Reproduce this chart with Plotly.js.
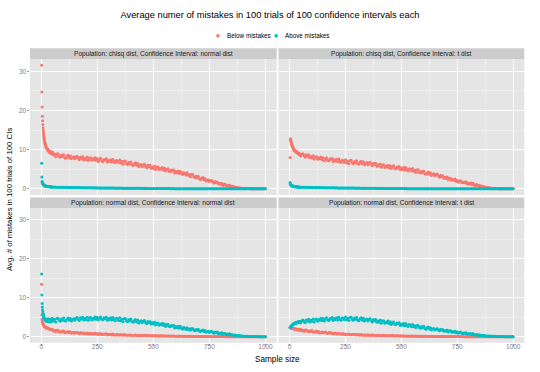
<!DOCTYPE html>
<html>
<head>
<meta charset="utf-8">
<script src="https://cdn.plot.ly/plotly-3.0.1.min.js"></script>
<style>html,body{margin:0;padding:0;background:#fff;}#chart{width:540px;height:372px;}</style>
</head>
<body>
<div id="chart"></div>
<script>
// ---------------- data ----------------
const chartTitle = "Average numer of mistakes in 100 trials of 100 confidence intervals each";
const seriesNames = ["Below mistakes", "Above mistakes"];
const panelTitles = [
  "Population: chisq dist, Confidence Interval: normal dist",
  "Population: chisq dist, Confidence Interval: t dist",
  "Population: normal dist, Confidence Interval: normal dist",
  "Population: normal dist, Confidence Interval: t dist"
];
const xTickVals = [0, 250, 500, 750, 1000];
const yTickVals = [0, 10, 20, 30];

const sampleSize = [2,3,4,5,6,7,8,9,10,11,12,13,14,15,16,17,18,19,20,
  22,24,26,28,30,32,34,36,38,40,42,44,46,48,
  50,55,60,65,70,75,80,85,90,95,100,105,110,115,120,125,130,135,140,145,
  150,155,160,165,170,175,180,185,190,195,200,205,210,215,220,225,230,235,240,245,
  250,255,260,265,270,275,280,285,290,295,300,305,310,315,320,325,330,335,340,345,
  350,355,360,365,370,375,380,385,390,395,400,405,410,415,420,425,430,435,440,445,
  450,455,460,465,470,475,480,485,490,495,500,505,510,515,520,525,530,535,540,545,
  550,555,560,565,570,575,580,585,590,595,600,605,610,615,620,625,630,635,640,645,
  650,655,660,665,670,675,680,685,690,695,700,705,710,715,720,725,730,735,740,745,
  750,755,760,765,770,775,780,785,790,795,800,805,810,815,820,825,830,835,840,845,
  850,855,860,865,870,875,880,885,890,895,900,905,910,915,920,925,930,935,940,945,
  950,955,960,965,970,975,980,985,990,995,1000];

// Panel 1: chisq population, normal CI
const belowChisqNormal = [31.5,24.7,20.9,18.5,17.4,16.4,15.6,14.9,14.3,13.8,13.3,12.9,12.5,12.2,11.9,11.6,11.4,11.2,11.0,
  10.6,10.5,10.1,10.2,9.8,9.9,9.5,9.7,9.3,9.5,9.1,9.4,8.9,9.2,
  9.4,8.6,8.9,8.2,8.9,8.95,8.3,8.05,8.6,8.25,8.7,7.95,7.8,8.3,8.55,7.9,8.4,7.65,8.0,8.2,
  7.65,8.1,8.3,7.8,7.45,8.1,7.8,8.2,7.45,7.8,7.5,8.1,7.25,7.8,7.9,7.3,7.65,7.4,7.9,7.3,
  7.75,7.0,7.5,7.8,7.15,7.0,7.5,7.3,7.65,6.85,7.3,7.0,7.45,6.8,7.5,7.0,6.65,7.25,7.1,6.7,
  7.35,6.6,6.95,6.3,7.05,7.1,6.45,6.2,6.75,6.4,6.85,6.1,5.95,6.4,6.65,6.0,6.45,5.7,6.05,6.2,
  5.65,6.1,6.25,5.7,5.35,6.0,5.65,6.0,5.25,5.6,5.25,5.8,4.95,5.5,5.55,4.9,5.25,5.0,5.45,4.8,
  5.25,4.55,4.94,5.13,4.52,4.36,4.8,4.54,4.83,4.07,4.46,4.1,4.54,3.88,4.47,3.96,3.65,4.14,3.98,3.52,
  4.1,3.45,3.68,3.11,3.66,3.65,3.08,2.83,3.22,2.89,3.2,2.55,2.38,2.7,2.86,2.3,2.62,1.98,2.22,2.3,
  1.88,2.1,2.14,1.76,1.5,1.84,1.58,1.74,1.24,1.4,1.15,1.44,0.88,1.17,1.16,0.73,0.9,0.71,0.94,0.52,
  0.65,0.45,0.52,0.36,0.4,0.27,0.3,0.2,0.22,0.15,0.16,0.11,0.12,0.08,0.09,0.06,0.06,0.04,0.05,0.03,
  0.03,0.03,0.02,0.02,0.02,0.01,0.01,0.01,0,0,0];
const aboveChisqNormal = [6.5,3.0,1.9,1.6,1.45,1.3,1.2,1.1,1.05,1.0,0.95,0.9,0.85,0.82,0.8,0.77,0.75,0.72,0.7,
  0.68,0.65,0.63,0.6,0.6,0.57,0.56,0.54,0.53,0.51,0.5,0.48,0.48,0.46,
  0.45,0.42,0.46,0.41,0.43,0.4,0.42,0.38,0.41,0.37,0.39,0.36,0.38,0.35,0.37,0.34,0.36,0.33,0.35,0.33,
  0.34,0.31,0.33,0.3,0.32,0.29,0.31,0.28,0.3,0.28,0.29,0.27,0.28,0.26,0.27,0.25,0.27,0.24,0.26,0.24,
  0.25,0.23,0.24,0.22,0.24,0.21,0.23,0.21,0.22,0.2,0.21,0.19,0.21,0.19,0.2,0.18,0.19,0.17,0.19,0.17,
  0.18,0.16,0.18,0.16,0.17,0.15,0.16,0.15,0.16,0.14,0.15,0.13,0.15,0.13,0.14,0.12,0.14,0.12,0.13,0.12,
  0.12,0.11,0.12,0.1,0.11,0.1,0.11,0.09,0.1,0.09,0.1,0.08,0.09,0.08,0.09,0.08,0.08,0.07,0.08,0.07,
  0.07,0.06,0.07,0.06,0.07,0.05,0.06,0.05,0.06,0.05,0.05,0.04,0.05,0.04,0.05,0.04,0.04,0.04,0.04,0.03,
  0.04,0.03,0.04,0.03,0.03,0.03,0.03,0.02,0.03,0.02,0.03,0.02,0.02,0.02,0.02,0.02,0.02,0.01,0.02,0.01,
  0.01,0.01,0.02,0.01,0.01,0.01,0.01,0.01,0.01,0.01,0.01,0.01,0.01,0,0.01,0,0.01,0,0,0,
  0,0,0.01,0,0,0,0,0,0,0,0,0,0,0,0,0,0,0,0,0,
  0,0,0,0,0,0,0,0,0,0,0];

// Panel 2: chisq population, t CI
const belowChisqT = [8.0,12.5,12.8,12.4,12.1,11.9,11.7,11.5,11.3,11.1,10.9,10.8,10.6,10.5,10.4,10.2,10.1,10.0,9.9,
  9.8,9.6,9.7,9.4,9.5,9.2,9.3,9.1,9.2,8.9,9.0,8.7,8.9,8.6,
  8.4,8.84,8.98,8.42,8.06,8.7,8.34,8.68,7.92,8.26,7.9,8.45,7.6,8.15,8.2,7.55,7.9,7.65,8.1,7.45,
  7.9,7.17,7.64,7.91,7.28,7.15,7.62,7.39,7.76,6.93,7.4,7.07,7.54,6.91,7.58,7.05,6.72,7.29,7.16,6.73,
  7.4,6.67,7.05,6.42,7.2,7.27,6.65,6.42,7.0,6.67,7.15,6.42,6.3,6.77,7.05,6.42,6.9,6.17,6.55,6.72,
  6.15,6.6,6.76,6.21,5.87,6.52,6.18,6.53,5.79,6.14,5.8,6.35,5.51,6.06,6.12,5.47,5.83,5.58,6.04,5.4,
  5.9,5.16,5.62,5.88,5.24,5.1,5.56,5.32,5.68,4.84,5.3,4.96,5.42,4.78,5.44,4.9,4.56,5.12,4.98,4.54,
  5.16,4.47,4.77,4.17,4.83,4.86,4.26,4.02,4.5,4.17,4.56,3.87,3.72,4.11,4.32,3.72,4.11,3.42,3.72,3.84,
  3.36,3.68,3.76,3.28,2.96,3.44,3.12,3.36,2.72,2.96,2.64,3.04,2.32,2.72,2.72,2.16,2.4,2.16,2.48,1.92,
  2.18,1.7,1.94,2.06,1.64,1.52,1.76,1.58,1.76,1.22,1.46,1.22,1.46,1.04,1.4,1.04,0.8,1.1,0.98,0.68,
  0.9,0.66,0.7,0.5,0.55,0.38,0.42,0.28,0.31,0.2,0.22,0.14,0.16,0.1,0.11,0.07,0.08,0.05,0.05,0.04,
  0.03,0.03,0.02,0.02,0.01,0.01,0.01,0.01,0,0,0];
const aboveChisqT = [1.6,1.35,1.15,1.05,0.95,0.9,0.86,0.82,0.79,0.76,0.73,0.71,0.69,0.67,0.65,0.63,0.61,0.6,0.58,
  0.56,0.55,0.53,0.52,0.5,0.49,0.48,0.47,0.46,0.45,0.44,0.43,0.43,0.42,
  0.42,0.39,0.43,0.38,0.4,0.37,0.39,0.35,0.38,0.34,0.36,0.33,0.35,0.32,0.34,0.31,0.33,0.3,0.32,0.3,
  0.31,0.28,0.3,0.27,0.29,0.26,0.28,0.25,0.27,0.25,0.26,0.24,0.25,0.23,0.24,0.22,0.24,0.21,0.23,0.21,
  0.22,0.2,0.21,0.19,0.21,0.18,0.2,0.18,0.19,0.17,0.18,0.16,0.18,0.16,0.17,0.15,0.16,0.14,0.16,0.14,
  0.15,0.13,0.15,0.13,0.14,0.12,0.13,0.12,0.13,0.11,0.12,0.1,0.12,0.1,0.11,0.1,0.11,0.09,0.1,0.09,
  0.09,0.08,0.09,0.08,0.08,0.07,0.08,0.07,0.07,0.06,0.07,0.06,0.06,0.05,0.06,0.05,0.05,0.05,0.05,0.04,
  0.05,0.04,0.04,0.04,0.04,0.03,0.04,0.03,0.03,0.03,0.03,0.03,0.03,0.02,0.03,0.02,0.02,0.02,0.02,0.02,
  0.02,0.02,0.02,0.01,0.02,0.01,0.01,0.01,0.01,0.01,0.01,0.01,0.01,0.01,0.01,0,0.01,0,0,0,
  0,0.01,0,0,0,0,0,0,0,0,0,0,0,0,0,0,0,0,0,0,
  0,0,0,0,0,0,0,0,0,0,0,0,0,0,0,0,0,0,0,0,
  0,0,0,0,0,0,0,0,0,0,0];

// Panel 3: normal population, normal CI
const belowNormalNormal = [13.5,5.6,4.5,4.0,3.7,3.5,3.3,3.2,3.1,3.0,2.9,2.8,2.75,2.7,2.6,2.55,2.5,2.45,2.4,
  2.35,2.25,2.3,2.15,2.2,2.05,2.1,1.95,2.0,1.85,1.9,1.78,1.82,1.7,
  1.9,1.49,1.63,1.28,1.63,1.63,1.29,1.15,1.41,1.23,1.45,1.07,0.99,1.21,1.34,1.02,1.25,0.88,1.06,1.14,
  0.9,1.08,1.14,0.92,0.78,1.04,0.9,1.04,0.74,0.88,0.74,0.97,0.63,0.86,0.89,0.64,0.79,0.7,0.89,0.64,
  0.8,0.55,0.71,0.8,0.57,0.53,0.69,0.6,0.73,0.44,0.61,0.49,0.65,0.44,0.67,0.48,0.37,0.57,0.53,0.38,
  0.55,0.4,0.48,0.38,0.5,0.47,0.36,0.34,0.43,0.35,0.44,0.3,0.29,0.37,0.41,0.28,0.37,0.26,0.31,0.34,
  0.27,0.33,0.35,0.27,0.24,0.31,0.27,0.31,0.22,0.26,0.22,0.28,0.19,0.24,0.25,0.18,0.22,0.2,0.24,0.17,
  0.2,0.15,0.19,0.2,0.15,0.14,0.17,0.15,0.17,0.11,0.14,0.12,0.15,0.1,0.14,0.11,0.09,0.12,0.11,0.08,
  0.1,0.08,0.09,0.07,0.09,0.09,0.07,0.06,0.08,0.06,0.08,0.05,0.05,0.06,0.07,0.04,0.06,0.04,0.04,0.05,
  0.04,0.03,0.04,0.03,0.03,0.04,0.03,0.02,0.03,0.02,0.03,0.02,0.02,0.02,0.02,0.01,0.02,0.01,0.01,0.01,
  0.01,0.01,0.01,0,0.01,0,0,0.01,0,0,0,0,0,0,0,0,0,0,0,0,
  0,0,0,0,0,0,0,0,0,0,0];
const aboveNormalNormal = [16.1,10.7,8.5,7.6,6.9,6.4,6.0,5.7,5.4,5.2,5.0,4.8,4.7,4.6,4.5,4.4,4.3,4.3,4.2,
  4.5,3.9,4.3,4.0,4.6,3.8,4.2,4.4,3.9,4.5,4.1,3.8,4.6,4.2,
  4.7,4.0,4.4,3.8,4.65,4.75,4.15,3.95,4.55,4.25,4.8,4.1,4.0,4.5,4.8,4.2,4.7,4.0,4.4,4.6,
  4.25,4.75,4.95,4.45,4.15,4.85,4.57,4.98,4.28,4.68,4.38,4.98,4.19,4.79,4.9,4.3,4.7,4.5,5.05,4.45,
  5.0,4.29,4.78,5.07,4.46,4.35,4.84,4.62,5.01,4.2,4.69,4.38,4.87,4.26,4.95,4.43,4.12,4.71,4.6,4.18,
  4.85,4.12,4.49,3.86,4.63,4.7,4.07,3.84,4.41,4.08,4.55,3.82,3.69,4.16,4.43,3.8,4.27,3.54,3.91,4.08,
  3.58,3.99,4.13,3.63,3.32,3.91,3.6,3.92,3.24,3.56,3.25,3.75,2.99,3.48,3.53,2.95,3.27,3.05,3.45,2.87,
  3.24,2.63,2.99,3.18,2.65,2.52,2.88,2.67,2.94,2.25,2.61,2.32,2.67,2.14,2.66,2.21,1.92,2.35,2.23,1.86,
  2.29,1.83,2.03,1.63,2.07,2.09,1.69,1.53,1.85,1.63,1.89,1.43,1.33,1.59,1.73,1.33,1.59,1.13,1.33,1.41,
  1.1,1.31,1.37,1.08,0.89,1.2,1.01,1.17,0.78,0.94,0.75,1.01,0.57,0.83,0.84,0.51,0.67,0.54,0.75,0.42,
  0.55,0.38,0.44,0.4,0.27,0.25,0.3,0.23,0.24,0.14,0.17,0.12,0.14,0.08,0.11,0.07,0.05,0.07,0.05,0.03,
  0.03,0.03,0.02,0.02,0.01,0.01,0.01,0.01,0,0,0];

// Panel 4: normal population, t CI
const belowNormalT = [2.4,2.5,2.45,2.4,2.35,2.35,2.3,2.3,2.25,2.25,2.2,2.2,2.15,2.15,2.1,2.1,2.05,2.05,2.0,
  2.05,1.9,2.0,1.85,1.95,1.8,1.9,1.75,1.85,1.7,1.8,1.68,1.75,1.65,
  1.9,1.52,1.68,1.35,1.72,1.73,1.4,1.27,1.54,1.35,1.57,1.19,1.1,1.32,1.44,1.1,1.32,0.94,1.1,1.17,
  0.93,1.11,1.17,0.94,0.8,1.06,0.92,1.06,0.75,0.89,0.75,0.97,0.63,0.84,0.86,0.6,0.74,0.64,0.82,0.56,
  0.71,0.49,0.63,0.71,0.52,0.48,0.61,0.54,0.65,0.4,0.54,0.44,0.58,0.39,0.59,0.43,0.33,0.5,0.46,0.33,
  0.47,0.33,0.4,0.3,0.42,0.43,0.32,0.28,0.37,0.31,0.39,0.27,0.25,0.32,0.36,0.26,0.33,0.22,0.26,0.3,
  0.22,0.27,0.29,0.23,0.19,0.25,0.22,0.25,0.17,0.21,0.17,0.22,0.14,0.19,0.19,0.13,0.16,0.14,0.18,0.12,
  0.15,0.1,0.13,0.15,0.1,0.09,0.12,0.1,0.12,0.07,0.1,0.08,0.1,0.06,0.09,0.07,0.05,0.08,0.07,0.05,
  0.07,0.05,0.06,0.04,0.06,0.06,0.04,0.03,0.05,0.04,0.05,0.03,0.03,0.04,0.04,0.03,0.03,0.02,0.03,0.03,
  0.02,0.02,0.02,0.01,0.02,0.02,0.01,0.01,0.01,0.01,0.01,0.01,0.01,0.01,0.01,0,0.01,0,0,0,
  0,0,0,0,0,0,0,0,0,0,0,0,0,0,0,0,0,0,0,0,
  0,0,0,0,0,0,0,0,0,0,0];
const aboveNormalT = [2.2,2.4,2.5,2.6,2.65,2.7,2.8,2.85,2.9,2.95,3.0,3.05,3.1,3.15,3.2,3.25,3.3,3.35,3.4,
  3.5,3.35,3.6,3.45,3.7,3.5,3.75,3.6,3.85,3.65,3.9,3.7,3.95,3.8,
  3.55,4.08,4.31,3.84,3.57,4.3,4.03,4.46,3.79,4.22,3.95,4.57,3.8,4.43,4.55,3.98,4.41,4.23,4.76,4.18,
  4.7,4.02,4.53,4.85,4.26,4.18,4.69,4.51,4.92,4.14,4.65,4.36,4.87,4.28,4.99,4.5,4.21,4.82,4.73,4.34,
  5.05,4.35,4.74,4.14,4.93,5.02,4.41,4.2,4.79,4.47,4.95,4.23,4.11,4.59,4.87,4.25,4.72,4.0,4.37,4.54,
  4.0,4.46,4.63,4.09,3.75,4.41,4.08,4.44,3.7,4.06,3.73,4.29,3.45,4.02,4.08,3.44,3.8,3.57,4.03,3.39,
  3.82,3.15,3.57,3.8,3.22,3.1,3.51,3.29,3.61,2.86,3.27,2.96,3.38,2.8,3.39,2.9,2.6,3.1,2.97,2.58,
  3.12,2.52,2.79,2.27,2.86,2.9,2.37,2.17,2.6,2.32,2.67,2.07,1.94,2.3,2.49,1.97,2.32,1.72,1.99,2.11,
  1.72,1.98,2.06,1.72,1.5,1.88,1.66,1.86,1.4,1.6,1.38,1.7,1.18,1.5,1.52,1.12,1.32,1.16,1.42,1.02,
  1.24,0.88,1.08,1.17,0.87,0.78,0.98,0.85,1.0,0.6,0.8,0.62,0.82,0.5,0.79,0.52,0.36,0.59,0.52,0.3,
  0.48,0.33,0.38,0.27,0.32,0.26,0.2,0.17,0.2,0.13,0.15,0.1,0.09,0.1,0.09,0.06,0.07,0.04,0.05,0.04,
  0.03,0.02,0.02,0.01,0.01,0.01,0.01,0,0,0,0];

// ---------------- styling ----------------
const W = 540, H = 372;
const colors = ["#F8766D", "#00BFC4"];
const FONT = "Liberation Sans, Arial, Helvetica, sans-serif";
const px = v => v / W;
const py = v => 1 - v / H;

const colDom = [[px(30), px(276.7)], [px(278.5), px(524.3)]];
const rowDom = [[py(195), py(59.2)], [py(342.8), py(208)]];
const stripRows = [[48.3, 59.2], [197.5, 208]];

const panelData = [
  [belowChisqNormal, aboveChisqNormal],
  [belowChisqT, aboveChisqT],
  [belowNormalNormal, aboveNormalNormal],
  [belowNormalT, aboveNormalT]
];

const traces = [];
panelData.forEach((pair, i) => {
  const suffix = i === 0 ? "" : String(i + 1);
  pair.forEach((vals, s) => {
    traces.push({
      type: "scatter", mode: "markers",
      x: sampleSize, y: vals,
      xaxis: "x" + suffix, yaxis: "y" + suffix,
      name: seriesNames[s], showlegend: false,
      marker: {color: colors[s], size: 3, line: {width: 0}},
      hoverinfo: "skip"
    });
  });
});

const layout = {
  width: W, height: H,
  margin: {l: 0, r: 0, t: 0, b: 0},
  paper_bgcolor: "#FFFFFF",
  plot_bgcolor: "#E5E5E5",
  font: {family: FONT, size: 7, color: "#7F7F7F"},
  title: {text: chartTitle, x: px(270), xanchor: "center", y: py(15), yanchor: "middle",
          font: {family: FONT, size: 9.3, color: "#000000"}},
  showlegend: false,
  shapes: [],
  annotations: []
};

function axisCommon(showLabels, isX) {
  return {
    showgrid: true, gridcolor: "#FFFFFF", gridwidth: 1,
    zeroline: false, showline: false,
    tickmode: "array",
    tickvals: isX ? xTickVals : yTickVals,
    ticktext: (isX ? xTickVals : yTickVals).map(String),
    showticklabels: showLabels,
    ticks: showLabels ? "outside" : "",
    ticklen: 2.5, tickwidth: 0.8, tickcolor: "#7F7F7F",
    ticklabelstandoff: isX ? -5 : -1,
    tickfont: {family: FONT, size: 6.5, color: "#7F7F7F"},
    fixedrange: true,
    minor: {dtick: isX ? 125 : 5, tick0: 0, showgrid: true, gridcolor: "#F2F2F2", gridwidth: 0.6, ticks: ""},
    range: isX ? [-49.95, 1049.95] : [-1.575, 33.075]
  };
}

for (let i = 0; i < 4; i++) {
  const suffix = i === 0 ? "" : String(i + 1);
  const col = i % 2, row = Math.floor(i / 2);
  const xa = axisCommon(row === 1, true);
  xa.domain = colDom[col];
  xa.anchor = "y" + suffix;
  const ya = axisCommon(col === 0, false);
  ya.domain = rowDom[row];
  ya.anchor = "x" + suffix;
  layout["xaxis" + suffix] = xa;
  layout["yaxis" + suffix] = ya;

  const sr = stripRows[row];
  layout.shapes.push({type: "rect", xref: "paper", yref: "paper",
    x0: colDom[col][0], x1: colDom[col][1], y0: py(sr[1]), y1: py(sr[0]),
    fillcolor: "#CCCCCC", line: {width: 0}, layer: "below"});
  layout.annotations.push({xref: "paper", yref: "paper",
    x: (colDom[col][0] + colDom[col][1]) / 2, y: py((sr[0] + sr[1]) / 2),
    xanchor: "center", yanchor: "middle", showarrow: false,
    text: panelTitles[i], font: {family: FONT, size: 6.6, color: "#1A1A1A"}});
}

// axis titles
layout.annotations.push({xref: "paper", yref: "paper", x: px(277), y: py(359),
  xanchor: "center", yanchor: "middle", showarrow: false,
  text: "Sample size", font: {family: FONT, size: 8.2, color: "#000000"}});
layout.annotations.push({xref: "paper", yref: "paper", x: px(9), y: py(200),
  xanchor: "center", yanchor: "middle", showarrow: false, textangle: -90,
  text: "Avg. # of mistakes in 100 trials of 100 CIs", font: {family: FONT, size: 7.8, color: "#000000"}});

// legend (top, horizontal)
const legendY = py(35);
const legendItems = [{dotX: 218, textX: 225}, {dotX: 276, textX: 283}];
legendItems.forEach((it, s) => {
  layout.annotations.push({xref: "paper", yref: "paper", x: px(it.dotX), y: legendY,
    xanchor: "center", yanchor: "middle", showarrow: false,
    text: "●", font: {family: "DejaVu Sans, sans-serif", size: 4.5, color: colors[s]}});
  layout.annotations.push({xref: "paper", yref: "paper", x: px(it.textX), y: legendY,
    xanchor: "left", yanchor: "middle", showarrow: false,
    text: seriesNames[s], font: {family: FONT, size: 6.3, color: "#000000"}});
});

Plotly.newPlot("chart", traces, layout, {staticPlot: true, displayModeBar: false});
</script>
</body>
</html>
